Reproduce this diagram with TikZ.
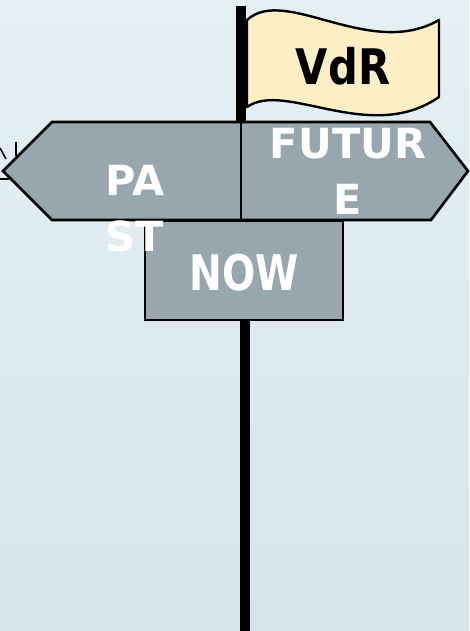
\documentclass[tikz,border=0pt]{standalone}
\usepackage{fontspec}
\setmainfont{DejaVu Sans}
\definecolor{bgtop}{HTML}{E5F0F4}
\definecolor{bgbot}{HTML}{D4E5EC}
\definecolor{signfill}{HTML}{97A7AD}
\definecolor{flagfill}{HTML}{FDEFC5}
\begin{document}
\begin{tikzpicture}[x=1pt,y=-1pt,
  signshape/.style={draw=black,line width=2.6pt,fill=signfill,line join=miter},
  signtext/.style={text=white,font=\fontsize{41.5}{56}\selectfont\bfseries,align=center,inner sep=0pt},
  bigtext/.style={font=\fontsize{49}{55}\selectfont\bfseries,inner sep=0pt},
  polestyle/.style={line width=10pt,draw=black}]
\shade[top color=bgtop,bottom color=bgbot] (0,0) rectangle (469,631);
\useasboundingbox (0,0) rectangle (469,631);
% offscreen fragment at left
\draw[line width=1.5pt] (0,148) -- (6,159);
\draw[line width=1.5pt] (16,142) -- (16,156);
\draw[line width=1.5pt] (0,179) -- (9,179);
% pole
\coordinate (poletop) at (241,6);
\coordinate (polemid) at (241,130);
\coordinate (polelow) at (244.5,315);
\coordinate (polebot) at (244.5,631);
\draw[polestyle] (poletop) -- (polemid);
\draw[polestyle] (polelow) -- (polebot);
% flag
\draw[fill=flagfill,line width=2.4pt,line join=round]
  (247,20) .. controls (285,-15) and (370,60) .. (439,20)
  -- (439,97) .. controls (370,145) and (285,80) .. (247,107) -- cycle;
\node[bigtext,anchor=north] (vdr) at (343,47) {\scalebox{0.85}[1]{VdR}};
% NOW box
\draw[signshape] (145,221) rectangle (343,320);
\node[bigtext,text=white,anchor=north] (now) at (244.5,254) {\scalebox{0.8}[1]{NOW}};
% signs
\draw[signshape] (241,122) -- (52,122) -- (3,171) -- (52,220) -- (241,220);
\draw[signshape] (241,122) -- (430,122) -- (468,171) -- (431,220) -- (241,220);
\draw[line width=2pt] (241,122) -- (241,220);
\node[signtext,anchor=north] (past) at (135,165) {PA\\ST};
\node[signtext,anchor=north] (future) at (348,128) {FUTUR\\E};
\end{tikzpicture}
\end{document}
